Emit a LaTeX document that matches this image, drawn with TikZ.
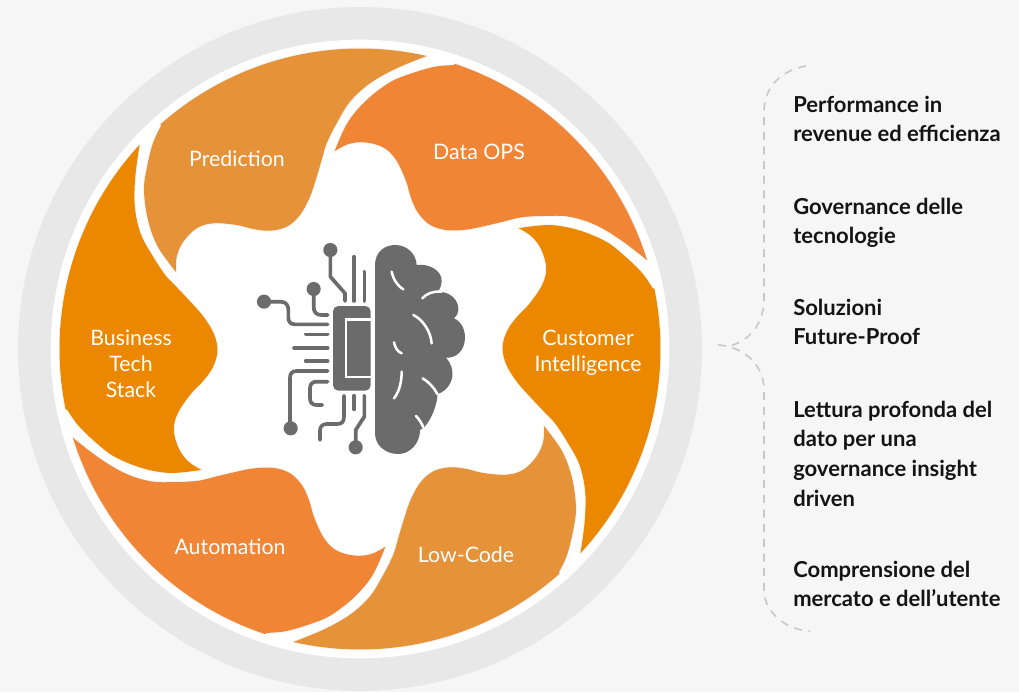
\documentclass[tikz,border=0pt]{standalone}
\usepackage{fontspec}
\setmainfont{Lato}
\definecolor{bgc}{HTML}{F6F6F6}
\definecolor{ringc}{HTML}{E8E8E8}
\definecolor{petalA}{HTML}{E59239}
\definecolor{petalB}{HTML}{F08536}
\definecolor{petalC}{HTML}{EC8800}
\definecolor{iconc}{HTML}{6B6B6B}
\definecolor{dashc}{HTML}{C8C8C8}
\newcommand{\petalpath}{%
      plot[domain=12.85:-41.6,samples=40] ({300.5*sin(\x)},{-300.5*cos(\x)})
      -- plot[smooth,tension=.6] coordinates {(-199,-223) (-207,-206) (-213,-182) (-216,-159) (-212,-129) (-202,-102) (-184,-77)}
      -- plot[smooth,tension=.6] coordinates {(-184,-77) (-183.3,-92.3) (-176.7,-107.3) (-163.3,-120.7) (-146.7,-125.7) (-123.3,-124) (-106.7,-120) (-90,-118.3) (-73.3,-122.3) (-60,-134) (-50,-152.3) (-43.3,-172.3) (-38.3,-189) (-33.3,-205.7) (-23.3,-225.7) (-10,-247.3) (10,-265.7) (36.7,-280.7) (66.7,-293)}
      -- cycle}
\newcommand{\petalshape}[2]{%
  \begin{scope}[shift={(360,349)},rotate=-#1]
    \path[draw=black,draw opacity=.035,line width=1.6pt] \petalpath;
    \path[fill=#2] \petalpath;
  \end{scope}}
\tikzset{
  petallabel/.style={text=white,font=\fontsize{16}{19.5}\selectfont,align=center,inner sep=0pt},
  sidelabel/.style={text=black!92,font=\bfseries\fontsize{16.5}{22.3}\selectfont,align=left,anchor=north west,inner sep=0pt},
  wire/.style={draw=iconc,line width=2.75pt,line cap=round,line join=round},
  pin/.style={fill=iconc},
  crease/.style={draw=white,line width=1.9pt,line cap=round},
  bracket/.style={draw=dashc,line width=1.2pt,dash pattern=on 6pt off 5pt}
}
\begin{document}
\begin{tikzpicture}[x=.75pt,y=-.75pt]
\useasboundingbox (0,0) rectangle (1019,692);
\fill[bgc] (0,0) rectangle (1019,692);
\fill[ringc] (360,349) circle[radius=256.5pt];
\fill[white] (360,349) circle[radius=232pt];
\petalshape{0}{petalA}
\petalshape{60}{petalB}
\petalshape{120}{petalC}
\petalshape{180}{petalA}
\petalshape{240}{petalB}
\petalshape{300}{petalC}
\node[petallabel] (predn) at (237,159) {Prediction};
\node[petallabel] (dataops) at (479,152) {Data OPS};
\node[petallabel] (custint) at (588,353) {Customer\\Intelligence};
\node[petallabel] (lowcode) at (466,555) {Low-Code};
\node[petallabel] (autom) at (230,547) {Automation};
\node[petallabel] (bizstack) at (131,364) {Business\\Tech\\Stack};
\begin{scope}[shift={(240,230)},x=.25pt,y=-.25pt]
  % brain
  \fill[iconc] (405,105) .. controls (405,65) and (435,45) .. (465,45)
    .. controls (500,45) and (528,70) .. (530,105)
    .. controls (565,100) and (607,120) .. (605,155)
    .. controls (605,165) and (600,175) .. (595,185)
    .. controls (630,185) and (657,210) .. (655,240)
    .. controls (655,250) and (650,258) .. (642,265)
    .. controls (665,275) and (675,300) .. (675,322)
    .. controls (675,360) and (650,385) .. (618,383)
    .. controls (632,398) and (640,420) .. (637,440)
    .. controls (633,465) and (615,485) .. (593,492)
    .. controls (590,530) and (575,565) .. (553,592)
    -- (540,600)
    .. controls (540,640) and (510,672) .. (475,672)
    .. controls (435,672) and (405,645) .. (405,610) -- cycle;
  \draw[crease] (455,125) .. controls (460,150) and (475,170) .. (490,178);
  \draw[crease] (547,205) .. controls (560,190) and (580,183) .. (605,185);
  \draw[crease] (520,255) .. controls (550,270) and (572,305) .. (575,340);
  \draw[crease] (462,337) .. controls (465,352) and (472,365) .. (485,370);
  \draw[crease] (485,425) .. controls (485,455) and (478,485) .. (462,505);
  \draw[crease] (548,445) .. controls (565,455) and (582,472) .. (592,492);
  \draw[crease] (528,558) .. controls (538,568) and (545,580) .. (550,592);
  % chip
  \fill[iconc,rounded corners=4pt] (279,228) -- (392,228) -- (392,482) -- (279,482) -- cycle;
  \draw[white,line width=1.8pt] (392,268) -- (318,268) -- (318,441) -- (392,441);
  % wires
  \draw[wire] (271,60) -- (271,140) -- (315,190) -- (315,213);
  \draw[wire] (342,80) -- (342,213);
  \draw[wire] (373,125) -- (373,213);
  \draw[wire] (221,177) -- (221,230) .. controls (221,248) and (230,255) .. (245,255) -- (263,255);
  \draw[wire] (72,215) -- (120,215) .. controls (138,215) and (145,225) .. (145,240) -- (145,262) .. controls (145,276) and (152,283) .. (165,283) -- (263,283);
  \draw[wire] (197,313) -- (263,313);
  \draw[wire] (162,353) -- (263,353);
  \draw[wire] (197,393) -- (263,393);
  \draw[wire] (263,423) -- (170,423) .. controls (157,423) and (150,430) .. (150,443) -- (150,595);
  \draw[wire] (263,455) -- (230,455) .. controls (217,455) and (210,462) .. (210,475) -- (210,505) .. controls (210,518) and (217,525) .. (230,525) -- (247,525);
  \draw[wire] (312,497) -- (312,560) .. controls (312,575) and (305,582) .. (292,582) -- (260,582) .. controls (247,582) and (240,590) .. (240,602) -- (240,630);
  \draw[wire] (342,497) -- (342,538);
  \draw[wire] (373,497) -- (373,560) -- (347,600) -- (347,652);
  \fill[pin] (271,60) circle[radius=5.3pt];
  \fill[pin] (221,177) circle[radius=5.3pt];
  \fill[pin] (72,215) circle[radius=5.3pt];
  \fill[pin] (152,595) circle[radius=5.3pt];
  \fill[pin] (347,652) circle[radius=5.3pt];
\end{scope}
\coordinate (bt) at (806,66);
\coordinate (bj) at (730,346);
\coordinate (bm) at (718,345);
\coordinate (bb) at (810,631);
\draw[bracket] (bt) .. controls (783,70) and (765,85) .. (764,110) -- (764,303) .. controls (762,325) and (750,340) .. (bj);
\draw[bracket] (bm) .. controls (740,346) and (764,362) .. (764,390) -- (764,593) .. controls (766,612) and (785,630) .. (bb);
\node[sidelabel] (s1) at (793,95.5) {Performance in\\revenue ed efficienza};
\node[sidelabel] (s2) at (793,197.5) {Governance delle\\tecnologie};
\node[sidelabel] (s3) at (793,298.5) {Soluzioni\\Future-Proof};
\node[sidelabel] (s4) at (793,400.5) {Lettura profonda del\\dato per una\\governance insight\\driven};
\node[sidelabel] (s5) at (793,560.5) {Comprensione del\\mercato e dell’utente};
\end{tikzpicture}
\end{document}
